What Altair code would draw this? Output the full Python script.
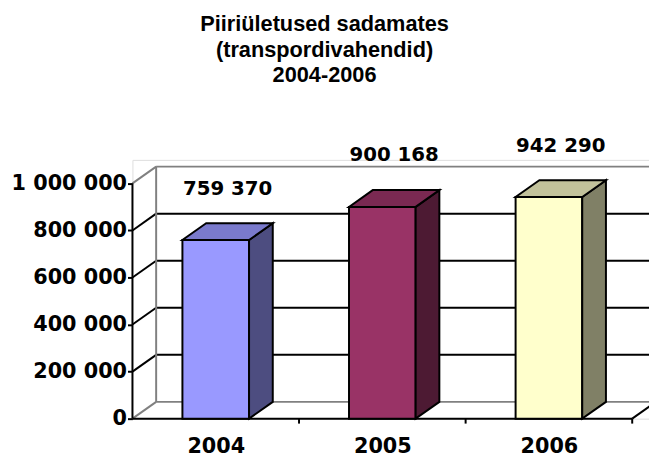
import altair as alt
import pandas as pd

years = ["2004", "2005", "2006"]
values = [759370, 900168, 942290]
front_colors = ["#9999FF", "#993366", "#FFFFCC"]
side_colors = ["#4D4D80", "#4D1A33", "#808066"]
top_colors = ["#7A7ACC", "#7A2952", "#C2C29B"]
y_ticks = [0, 200000, 400000, 600000, 800000, 1000000]
title_lines = ["Piiriületused sadamates", "(transpordivahendid)", "2004-2006"]

W, H = 523, 262
XMAX = 3 * 523 / 506
YMAX = 1_100_000
DX = 24 * XMAX / W
DY = 17 * YMAX / H
TICK = 5 * YMAX / H
BAR_L, BAR_R = 0.3, 0.7
BLACK, GRAY = "#000000", "#808080"

xs = alt.Scale(domain=[0, XMAX], nice=False, zero=False)
ys = alt.Scale(domain=[0, YMAX], nice=False, zero=False)

front = pd.DataFrame({
    "year": years,
    "value": values,
    "x0": [i + BAR_L for i in range(3)],
    "x1": [i + BAR_R for i in range(3)],
    "c": front_colors,
    "label": [f"{v:,}".replace(",", " ") for v in values],
    "xl": [i + 0.5 + DX / 2 for i in range(3)],
    "ytop": [v + DY for v in values],
})

side_rows, top_rows = [], []
for i, (yr, v) in enumerate(zip(years, values)):
    side_rows.append({"year": yr, "x": i + BAR_R, "ylo": 0, "yhi": v, "c": side_colors[i]})
    side_rows.append({"year": yr, "x": i + BAR_R + DX, "ylo": DY, "yhi": v + DY, "c": side_colors[i]})
    top_rows.append({"year": yr, "y": v, "xa": i + BAR_L, "xb": i + BAR_R, "c": top_colors[i]})
    top_rows.append({"year": yr, "y": v + DY, "xa": i + BAR_L + DX, "xb": i + BAR_R + DX, "c": top_colors[i]})
side = pd.DataFrame(side_rows)
top = pd.DataFrame(top_rows)

rules = []
for v in y_ticks:
    col = BLACK if 0 < v < 1_000_000 else GRAY
    rules.append({"x": DX, "x2": XMAX + DX, "y": v + DY, "y2": v + DY, "c": col})
    rules.append({"x": 0, "x2": DX, "y": v, "y2": v + DY, "c": col})
rules.append({"x": DX, "x2": DX, "y": DY, "y2": 1_000_000 + DY, "c": GRAY})
rules.append({"x": 3, "x2": 3 + DX, "y": 0, "y2": DY, "c": BLACK})
rules.append({"x": 0, "x2": 0, "y": 0, "y2": 1_000_000, "c": BLACK})
rules.append({"x": 0, "x2": 3, "y": 0, "y2": 0, "c": BLACK})
for b in [1, 2, 3]:
    rules.append({"x": b, "x2": b, "y": 0, "y2": -TICK, "c": BLACK})
rules = pd.DataFrame(rules)

label_expr = "[" + ",".join(f"'{y}'" for y in years) + "][floor(datum.value)]"

rule_layer = alt.Chart(rules).mark_rule(strokeWidth=2).encode(
    x=alt.X("x:Q", scale=xs, axis=alt.Axis(
        values=[0.5, 1.5, 2.5], labelExpr=label_expr, ticks=False, domain=False, grid=False,
        labelPadding=17, title=None)),
    x2="x2:Q",
    y=alt.Y("y:Q", scale=ys, axis=alt.Axis(
        values=y_ticks, format=",d", domain=False, grid=False,
        labelPadding=1, title=None)),
    y2="y2:Q",
    color=alt.Color("c:N", scale=None),
)

front_layer = alt.Chart(front).mark_rect(stroke="black", strokeWidth=2).encode(
    x=alt.X("x0:Q", scale=xs, axis=None),
    x2="x1:Q",
    y=alt.Y("value:Q", scale=ys, axis=None),
    y2=alt.Y2(datum=0),
    fill=alt.Fill("c:N", scale=None),
)

side_layer = alt.Chart(side).mark_area(stroke="black", strokeWidth=2, opacity=1, strokeJoin="miter").encode(
    x=alt.X("x:Q", scale=xs, axis=None),
    y=alt.Y("yhi:Q", scale=ys, axis=None),
    y2="ylo:Q",
    fill=alt.Fill("c:N", scale=None),
    detail="year:N",
)

top_layer = alt.Chart(top).mark_area(orient="horizontal", stroke="black", strokeWidth=2, opacity=1, strokeJoin="miter").encode(
    y=alt.Y("y:Q", scale=ys, axis=None),
    x=alt.X("xa:Q", scale=xs, axis=None),
    x2="xb:Q",
    fill=alt.Fill("c:N", scale=None),
    detail="year:N",
)

label_layer = alt.Chart(front).mark_text(
    font="DejaVu Sans", fontWeight="bold", fontSize=20, color="black", baseline="alphabetic", dy=-29
).encode(
    x=alt.X("xl:Q", scale=xs, axis=None),
    y=alt.Y("ytop:Q", scale=ys, axis=None),
    text="label:N",
)

chart = alt.layer(rule_layer, front_layer, side_layer, top_layer, label_layer).resolve_axis(
    x="independent", y="independent"
).properties(
    width=W, height=H,
    autosize=alt.AutoSizeParams(type="none"),
    padding={"left": 126, "top": 151, "right": 0, "bottom": 34},
    title=alt.TitleParams(
        text=title_lines, font="Liberation Sans", fontSize=22, fontWeight="bold", color="black",
        anchor="middle", frame="group", dx=-67, offset=49, lineHeight=26,
    ),
).configure_view(stroke=None).configure(
    locale={"number": {"decimal": ",", "thousands": " ", "grouping": [3], "currency": ["", ""]}}
).configure_axis(
    labelFont="DejaVu Sans", labelFontWeight="bold", labelFontSize=21, labelColor="black",
    tickColor="black", tickWidth=2, tickSize=5,
)

chart.save("out.html", embed_options={"renderer": "svg", "actions": False})
